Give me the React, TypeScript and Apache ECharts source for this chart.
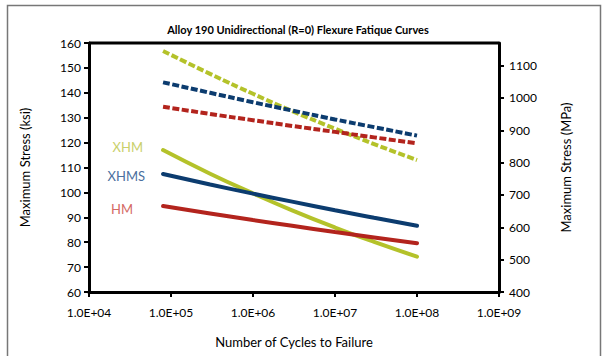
import React, { useEffect, useRef } from "react";
import * as echarts from "echarts";

const cycles = [8e4, 3e5, 1e6, 3e6, 1e7, 3e7, 1e8];
const xhmSolid = [117.0, 107.5, 99.6, 92.8, 85.9, 80.1, 74.2];
const xhmsSolid = [107.4, 103.2, 99.5, 96.3, 92.8, 89.8, 86.6];
const hmSolid = [94.5, 91.5, 88.9, 86.6, 84.1, 81.9, 79.6];
const xhmDashed = [156.8, 147.6, 139.6, 132.7, 125.6, 119.4, 113.0];
const xhmsDashed = [144.2, 140.0, 136.2, 132.9, 129.3, 126.2, 122.8];
const hmDashed = [134.4, 131.5, 129.0, 126.7, 124.3, 122.1, 119.7];

const seriesNames = ["XHM", "XHMS", "HM"];
const lineColors = ["#b4c22a", "#0c3c6f", "#b3241d"];
const labelColors = ["#c9d06a", "#4a6f9e", "#d46a64"];
const labelOffsets = [[0, -3], [2, 2], [-10, 3]];

const FONT = "Lato, 'Open Sans', sans-serif";

function pairs(vals: number[]) {
  return vals.map((v, i) => [cycles[i], v]);
}

export default function App() {
  const ref = useRef<HTMLDivElement>(null);
  useEffect(() => {
    if (!ref.current) return;
    const chart = echarts.init(ref.current, undefined, { renderer: "svg" });
    const solids = [xhmSolid, xhmsSolid, hmSolid];
    const dashes = [xhmDashed, xhmsDashed, hmDashed];
    const series: any[] = [];
    dashes.forEach((d, i) => {
      series.push({
        type: "line",
        name: seriesNames[i] + " dashed",
        data: pairs(d),
        showSymbol: false,
        smooth: true,
        lineStyle: { color: lineColors[i], width: 4, type: [7, 2.5] },
      });
    });
    solids.forEach((d, i) => {
      const data: any[] = pairs(d);
      data[0] = {
        value: data[0],
        label: {
          show: true,
          position: "left",
          distance: 20,
          offset: labelOffsets[i],
          formatter: seriesNames[i],
          color: labelColors[i],
          fontFamily: FONT,
          fontSize: 13,
        },
      };
      series.push({
        type: "line",
        name: seriesNames[i],
        data,
        showSymbol: true,
        symbol: "circle",
        symbolSize: 0,
        smooth: true,
        label: { show: false },
        lineStyle: { color: lineColors[i], width: 4, cap: "round" },
      });
    });
    const axisLine = { show: true, lineStyle: { color: "#000", width: 3 } };
    const axisTick = { show: true, length: 5, lineStyle: { color: "#000", width: 2 } };
    const axisLabel = { color: "#000", fontFamily: FONT, fontSize: 12 };
    chart.setOption({
      animation: false,
      title: {
        text: "Alloy 190 Unidirectional (R=0) Flexure Fatique Curves",
        left: 293,
        textAlign: "center",
        top: 19,
        textStyle: { fontFamily: FONT, fontSize: 11, fontWeight: "bold", color: "#000" },
      },
      graphic: [
        {
          type: "rect",
          shape: { x: 7.5, y: 5.5, width: 593, height: 360 },
          style: { fill: "none", stroke: "#777", lineWidth: 1.5 },
        },
        {
          type: "line",
          shape: { x1: 89, y1: 43, x2: 499, y2: 43 },
          style: { stroke: "#000", lineWidth: 3 },
        },
      ],
      grid: { left: 89, top: 43, width: 410, height: 249, containLabel: false },
      xAxis: {
        type: "log",
        logBase: 10,
        min: 1e4,
        max: 1e9,
        splitLine: { show: false },
        axisLine,
        axisTick,
        axisLabel: {
          ...axisLabel,
          margin: 14,
          formatter: (v: number) => {
            const e = Math.round(Math.log10(v));
            return "1.0E+" + String(e).padStart(2, "0");
          },
        },
        name: "Number of Cycles to Failure",
        nameLocation: "middle",
        nameGap: 43,
        nameTextStyle: { fontFamily: FONT, fontSize: 13, color: "#000" },
      },
      yAxis: [
        {
          type: "value",
          min: 60,
          max: 160,
          interval: 10,
          splitLine: { show: false },
          axisLine,
          axisTick,
          axisLabel: { ...axisLabel, margin: 8 },
          name: "Maximum Stress (ksi)",
          nameLocation: "middle",
          nameGap: 58,
          nameTextStyle: { fontFamily: FONT, fontSize: 13, color: "#000" },
        },
        {
          type: "value",
          position: "right",
          min: 400,
          max: 1170,
          interval: 100,
          splitLine: { show: false },
          axisLine,
          axisTick,
          axisLabel: { ...axisLabel, margin: 10, showMaxLabel: false, formatter: (v: number) => String(v) },
          name: "Maximum Stress (MPa)",
          nameLocation: "middle",
          nameGap: 60,
          nameRotate: 90,
          nameTextStyle: { fontFamily: FONT, fontSize: 13, color: "#000" },
        },
      ],
      series,
    });
    return () => chart.dispose();
  }, []);
  return (
    <div
      ref={ref}
      style={{ position: "absolute", left: 0, top: 0, width: 608, height: 356, background: "#fff" }}
    />
  );
}
